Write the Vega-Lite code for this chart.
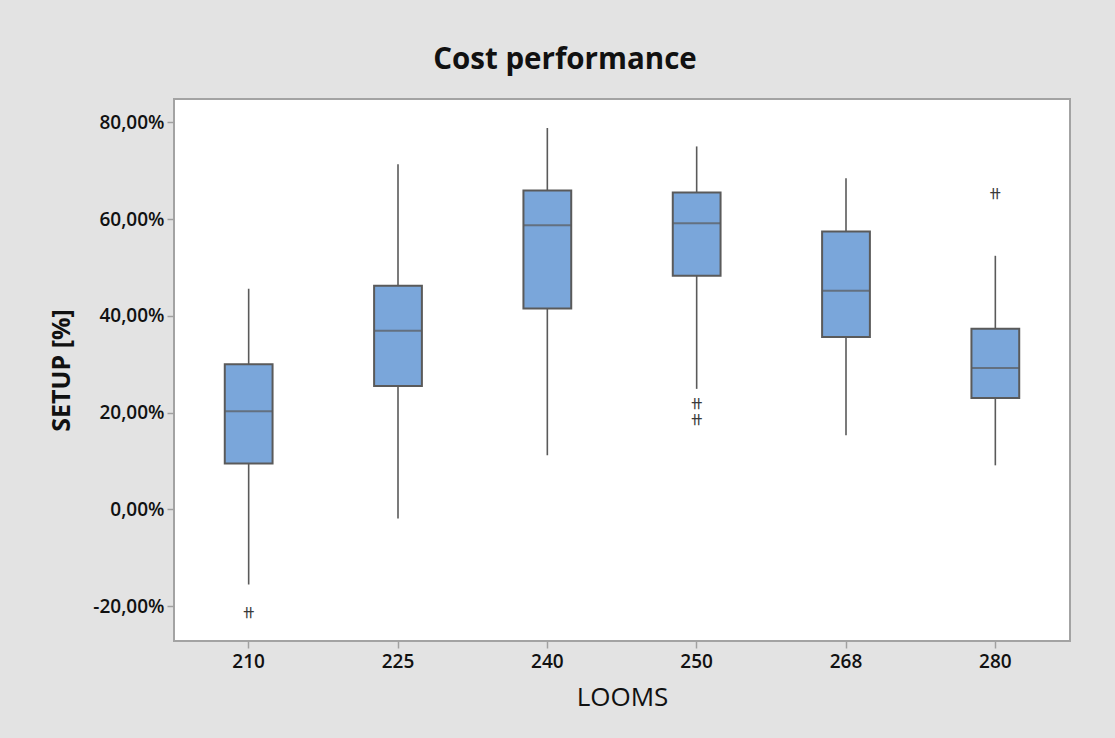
{
  "$schema": "https://vega.github.io/schema/vega-lite/v6.json",
  "autosize": {"type": "none"},
  "width": 896,
  "height": 542,
  "padding": {"left": 174, "top": 99, "right": 45, "bottom": 97},
  "background": "#e3e3e3",
  "title": {
    "text": "Cost performance",
    "anchor": "middle",
    "frame": "group",
    "dx": -57,
    "offset": 24,
    "font": "Open Sans",
    "fontSize": 29.5,
    "fontWeight": "bold",
    "color": "#111111"
  },
  "datasets": {
    "boxes": [
      {"loom": "210", "lo": -15.5, "q1": 9.5, "med": 20.3, "q3": 30.0, "hi": 45.6},
      {"loom": "225", "lo": -1.9, "q1": 25.5, "med": 36.9, "q3": 46.2, "hi": 71.3},
      {"loom": "240", "lo": 11.2, "q1": 41.5, "med": 58.7, "q3": 65.9, "hi": 78.8},
      {"loom": "250", "lo": 24.9, "q1": 48.3, "med": 59.1, "q3": 65.5, "hi": 75.0},
      {"loom": "268", "lo": 15.3, "q1": 35.6, "med": 45.2, "q3": 57.4, "hi": 68.4},
      {"loom": "280", "lo": 9.1, "q1": 23.0, "med": 29.2, "q3": 37.3, "hi": 52.4}
    ],
    "outliers": [
      {"loom": "210", "value": -21.6},
      {"loom": "250", "value": 21.6},
      {"loom": "250", "value": 18.2},
      {"loom": "280", "value": 64.9}
    ]
  },
  "encoding": {
    "x": {
      "field": "loom",
      "type": "nominal",
      "sort": ["210", "225", "240", "250", "268", "280"],
      "scale": {"paddingInner": 0, "paddingOuter": 0},
      "axis": {
        "title": "LOOMS",
        "labelAngle": 0,
        "labelFont": "Open Sans",
        "labelFontSize": 19,
        "labelFontWeight": 600,
        "labelColor": "#111111",
        "labelPadding": 4,
        "tickSize": 7,
        "tickColor": "#a0a0a0",
        "tickWidth": 1.5,
        "domain": false,
        "titleFont": "Open Sans",
        "titleFontSize": 26,
        "titleFontWeight": "normal",
        "titleColor": "#111111",
        "titlePadding": 13
      }
    }
  },
  "layer": [
    {
      "data": {"name": "boxes"},
      "mark": {"type": "rule", "color": "#5a5a5a", "strokeWidth": 1.6},
      "encoding": {
        "y": {
          "field": "lo",
          "type": "quantitative",
          "scale": {"domain": [-27.2, 84.8], "nice": false, "zero": false},
          "axis": {
            "title": "SETUP [%]",
            "values": [-20, 0, 20, 40, 60, 80],
            "labelExpr": "(datum.value < 0 ? '-' : '') + replace(format(abs(datum.value), '.2f'), '.', ',') + '%'",
            "labelFont": "Open Sans",
            "labelFontSize": 19,
            "labelFontWeight": 600,
            "labelColor": "#111111",
            "labelPadding": 3,
            "tickSize": 7,
            "tickColor": "#a0a0a0",
            "tickWidth": 1.5,
            "grid": false,
            "domain": false,
            "titleFont": "Open Sans",
            "titleFontSize": 25,
            "titleFontWeight": "bold",
            "titleColor": "#111111",
            "titlePadding": 18
          }
        },
        "y2": {"field": "hi"}
      }
    },
    {
      "data": {"name": "boxes"},
      "mark": {
        "type": "bar",
        "width": {"band": 0.32},
        "fill": "#7aa6da",
        "stroke": "#5a5a5a",
        "strokeWidth": 2
      },
      "encoding": {
        "y": {"field": "q1", "type": "quantitative"},
        "y2": {"field": "q3"}
      }
    },
    {
      "data": {"name": "boxes"},
      "mark": {"type": "tick", "color": "#5a5a5a", "size": 48, "thickness": 2},
      "encoding": {
        "y": {"field": "med", "type": "quantitative"}
      }
    },
    {
      "data": {"name": "outliers"},
      "mark": {
        "type": "text",
        "text": "卄",
        "font": "Noto Sans CJK SC",
        "fontSize": 11,
        "fontWeight": "bold",
        "color": "#3a3a3a",
        "baseline": "middle"
      },
      "encoding": {
        "y": {"field": "value", "type": "quantitative"}
      }
    }
  ],
  "config": {
    "view": {"fill": "#ffffff", "stroke": "#a3a3a3", "strokeWidth": 2}
  }
}
